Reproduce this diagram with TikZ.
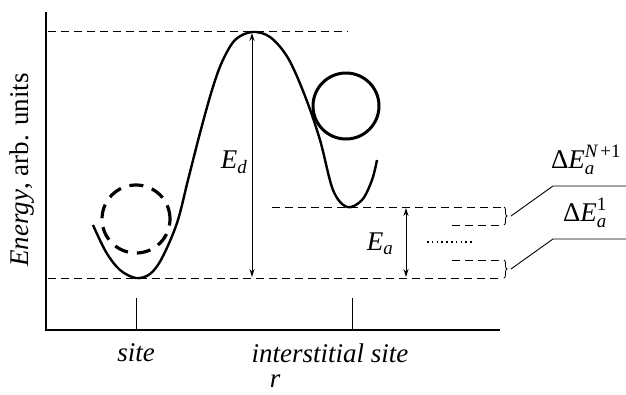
\documentclass[tikz,border=0pt]{standalone}
\usepackage{amsmath}
\usepackage{fontspec}
\setmainfont{Liberation Serif}
\usetikzlibrary{arrows.meta,decorations.pathreplacing}
\begin{document}
\begin{tikzpicture}[x=1pt,y=-1pt,
  dashline/.style={line width=0.9pt,dash pattern=on 8pt off 5pt},
  axisline/.style={line width=2pt},
  curveline/.style={line width=2.4pt},
  thinline/.style={line width=0.9pt},
  arr/.style={line width=0.9pt,{Stealth[length=8pt,width=5pt]}-{Stealth[length=8pt,width=5pt]}},
  lbl/.style={font=\fontsize{27}{30}\selectfont,inner sep=0pt},
  brc/.style={line width=0.8pt,decorate,decoration={brace,amplitude=3pt}}]
\useasboundingbox (0,0) rectangle (626,394);
% axes
\coordinate (O) at (46,330);
\coordinate (Ytop) at (46,12);
\coordinate (Xend) at (500,330);
\draw[axisline] (Ytop) -- (O) -- (Xend);
% ticks
\coordinate (t1a) at (136,298); \coordinate (t1b) at (136,330);
\coordinate (t2a) at (352,298); \coordinate (t2b) at (352,330);
\draw[thinline] (t1a) -- (t1b);
\draw[thinline] (t2a) -- (t2b);
% dashed levels
\coordinate (top1) at (48,31); \coordinate (top2) at (348,31);
\coordinate (bot1) at (48,278); \coordinate (bot2) at (503,278);
\coordinate (mid1) at (272,207); \coordinate (mid2) at (503,207);
\coordinate (s1a) at (452,225); \coordinate (s1b) at (503,225);
\coordinate (s2a) at (452,260); \coordinate (s2b) at (503,260);
\draw[dashline] (top1) -- (top2);
\draw[dashline] (bot1) -- (bot2);
\draw[dashline] (mid1) -- (mid2);
\draw[dashline] (s1a) -- (s1b);
\draw[dashline] (s2a) -- (s2b);
% dotted
\coordinate (d1) at (427,242); \coordinate (d2) at (472,242);
\draw[line width=2pt,dash pattern=on 1.6pt off 3.2pt] (d1) -- (d2);
% potential curve
\draw[curveline] plot[smooth,tension=0.55] coordinates {
 (93,225) (106,252) (120,270) (136,278) (150,274) (162,258) (177,223) (188,180)
 (200,133) (212,90) (222,62) (235,40) (252,32) (270,37) (288,58) (305,96)
 (320,140) (333,190) (347,207) (362,200) (372,180) (377,160)};
% circles
\node[draw,circle,line width=3.2pt,dash pattern=on 14pt off 9pt,minimum size=68pt,inner sep=0pt] (dc) at (136,219) {};
\node[draw,circle,line width=3pt,minimum size=66pt,inner sep=0pt] (sc) at (346,106) {};
% arrows
\coordinate (Ed1) at (252,33); \coordinate (Ed2) at (252,277);
\draw[arr] (Ed1) -- (Ed2);
\coordinate (Ea1) at (406,208); \coordinate (Ea2) at (406,277);
\draw[arr] (Ea1) -- (Ea2);
\node[lbl] (Ed) at (234,162) {$\textit{E}_{\textit{d}}$};
\node[lbl] (Ea) at (380,244) {$\textit{E}_{\textit{a}}$};
% braces
\coordinate (b1a) at (504,207); \coordinate (b1b) at (504,225);
\coordinate (b2a) at (504,260); \coordinate (b2b) at (504,278);
\draw[brc] (b1a) -- (b1b);
\draw[brc] (b2a) -- (b2b);
\coordinate (l1a) at (511,216); \coordinate (l1b) at (553,186); \coordinate (l1c) at (626,186);
\coordinate (l2a) at (511,269); \coordinate (l2b) at (553,239); \coordinate (l2c) at (626,239);
\draw[thinline] (l1a) -- (l1b) -- (l1c);
\draw[thinline] (l2a) -- (l2b) -- (l2c);
\node[lbl] (dEN) at (586,160) {$\text{Δ}\textit{E}_{\textit{a}}^{\textit{N}\,\text{+1}}$};
\node[lbl] (dE1) at (585,213) {$\text{Δ}\textit{E}_{\textit{a}}^{\text{1}}$};
% axis labels
\node[lbl] (site) at (136,353) {\itshape site};
\node[lbl] (isite) at (330,353) {\itshape interstitial site};
\node[lbl,text height=12pt,text depth=0pt] (r) at (275,381) {\itshape r};
\node[lbl,rotate=90] (ylab) at (22,170) {\itshape Energy\upshape, arb. units};
\end{tikzpicture}
\end{document}
